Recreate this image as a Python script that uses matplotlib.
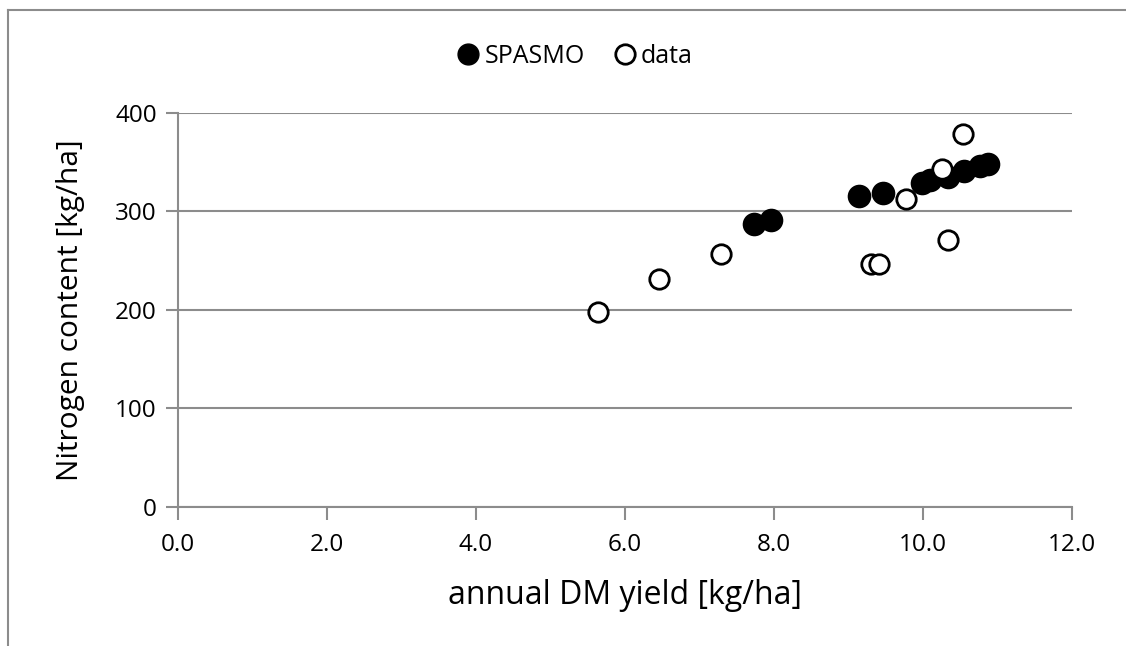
import matplotlib
matplotlib.use("Agg")
import matplotlib.pyplot as plt
from matplotlib.lines import Line2D

plt.rcParams['font.family'] = ['Open Sans', 'DejaVu Sans']

spasmo_x = [7.73, 7.96, 9.14, 9.46, 9.99, 10.10, 10.34, 10.55, 10.77, 10.88]
spasmo_y = [286.7, 291.0, 315.4, 318.8, 328.3, 331.7, 334.4, 340.8, 345.9, 347.9]

data_x = [5.64, 6.46, 7.29, 9.30, 9.41, 9.77, 10.25, 10.34, 10.54]
data_y = [198.0, 230.8, 256.5, 246.4, 246.4, 312.4, 342.5, 270.8, 378.0]

x_ticks = [0, 2, 4, 6, 8, 10, 12]
y_ticks = [0, 100, 200, 300, 400]

grey = '#8c8c8c'

fig = plt.figure(figsize=(11.26, 6.46), dpi=100)
ax = fig.add_axes([0.1578, 0.2156, 0.952 - 0.1578, 0.8255 - 0.2156])

ax.scatter(spasmo_x, spasmo_y, s=15.5**2, c='black', edgecolors='black', linewidths=1.5, zorder=3)
ax.scatter(data_x, data_y, s=14**2, c='white', edgecolors='black', linewidths=2.0, zorder=4)

ax.set_xlim(0, 12)
ax.set_ylim(0, 400)
ax.set_xticks(x_ticks)
ax.set_xticklabels([f"{v:.1f}" for v in x_ticks])
ax.set_yticks(y_ticks)
ax.set_yticklabels([str(v) for v in y_ticks])

ax.yaxis.grid(True, color=grey, linewidth=1.5)
ax.set_axisbelow(True)
for s in ['top', 'right']:
    ax.spines[s].set_visible(False)
for s in ['left', 'bottom']:
    ax.spines[s].set_color(grey)
    ax.spines[s].set_linewidth(1.5)
ax.tick_params(axis='both', direction='out', length=9, width=1.5, color=grey,
               labelsize=17.5, labelcolor='black')
ax.tick_params(axis='x', pad=10)
ax.tick_params(axis='y', pad=6)

ax.set_xlabel('annual DM yield [kg/ha]', fontsize=23, labelpad=16)
ax.set_ylabel('Nitrogen content [kg/ha]', fontsize=21.5, labelpad=22)

handles = [
    Line2D([], [], marker='o', linestyle='none', markersize=15, markerfacecolor='black',
           markeredgecolor='black', label='SPASMO'),
    Line2D([], [], marker='o', linestyle='none', markersize=14, markerfacecolor='white',
           markeredgecolor='black', markeredgewidth=2.0, label='data'),
]
fig.legend(handles=handles, loc='center', bbox_to_anchor=(0.509, 0.913), ncol=2,
           frameon=False, fontsize=18, handletextpad=0.05, columnspacing=1.0,
           handlelength=1.2)

# outer chart border (top and left visible)
fig.add_artist(Line2D([8 / 1126, 1.0], [1 - 10 / 646, 1 - 10 / 646], color=grey, linewidth=1.5,
                      transform=fig.transFigure))
fig.add_artist(Line2D([8 / 1126, 8 / 1126], [0, 1 - 10 / 646], color=grey, linewidth=1.5,
                      transform=fig.transFigure))

fig.savefig('out.png', dpi=100)
